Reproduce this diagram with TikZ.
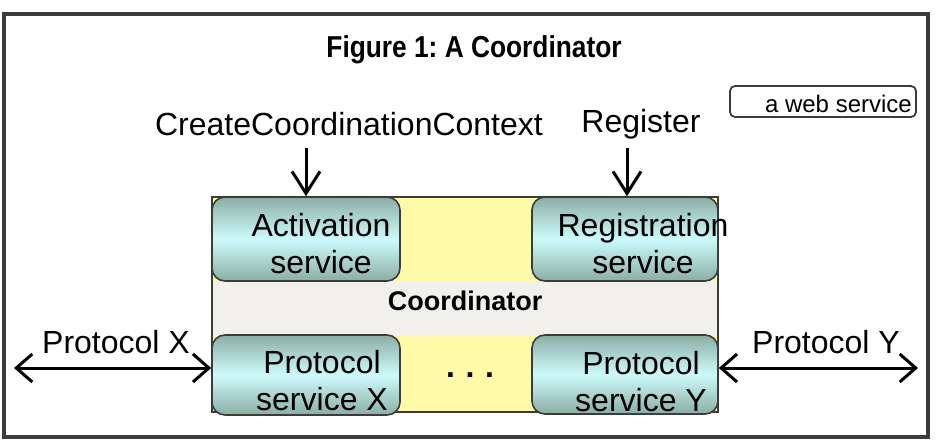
\documentclass[tikz,border=0pt]{standalone}
\usepackage{fontspec}
\setmainfont{Liberation Sans}
\usetikzlibrary{arrows.meta}
\definecolor{frameC}{HTML}{3C3C3C}
\definecolor{bandC}{HTML}{F1F0EC}
\definecolor{yelC}{HTML}{FFFAA8}
\definecolor{tealE}{HTML}{8AAEA4}
\definecolor{tealM}{HTML}{CDFBFB}
\tikzset{
  svc/.style={draw=frameC, line width=1.6pt, rounded corners=13pt,
    top color=tealE, bottom color=tealE, middle color=tealM},
  txt/.style={font=\fontsize{32}{37}\selectfont, align=center, inner sep=0pt},
  arr/.style={line width=3pt, -{Straight Barb[length=22pt,width=28pt,line width=3pt]}},
  darr/.style={line width=3pt, {Straight Barb[length=16pt,width=28pt,line width=3pt]}-{Straight Barb[length=16pt,width=28pt,line width=3pt]}},
}
\frenchspacing
\begin{document}
\begin{tikzpicture}[x=1pt,y=-1pt]
\useasboundingbox (0,0) rectangle (942,444);
\fill[white] (0,0) rectangle (942,444);
% outer frame
\node[draw=frameC, line width=3.5pt, minimum width=924pt, minimum height=423pt, inner sep=0pt] (frame) at (466,225.5) {};
% title
\node[font=\bfseries\fontsize{26.3}{30}\selectfont, inner sep=0pt] (title) at (474,50) {\scalebox{1}[1.15]{Figure 1: A Coordinator}};
% legend
\node[draw=frameC, line width=1.8pt, rounded corners=5pt, minimum width=186pt, minimum height=31pt, inner sep=0pt] (legend) at (823,101.5) {};
\node[font=\fontsize{24}{26}\selectfont, inner sep=0pt, anchor=east] (legtxt) at (912,104) {a web service};
% coordinator
\node[fill=yelC, minimum width=506pt, minimum height=215pt, inner sep=0pt] (coord) at (465,304.5) {};
\fill[bandC] (212,282) rectangle (718,335);
\node[font=\bfseries\fontsize{27}{30}\selectfont, inner sep=0pt] (coordtxt) at (465,301) {Coordinator};
\node[draw=frameC, line width=1.8pt, minimum width=506pt, minimum height=215pt, inner sep=0pt] (coordbox) at (465,304.5) {};
% services
\node[svc, minimum width=188pt, minimum height=84pt, inner sep=0pt] (act) at (306,239) {};
\node[svc, minimum width=186pt, minimum height=84pt, inner sep=0pt] (reg) at (625,239) {};
\node[svc, minimum width=188pt, minimum height=80pt, inner sep=0pt] (px) at (306,375) {};
\node[svc, minimum width=186pt, minimum height=79pt, inner sep=0pt] (py) at (625,374.5) {};
\node[txt] (acttxt) at (321,244) {Activation\\service};
\node[txt] (regtxt) at (643,244) {Registration\\service};
\node[txt] (pxtxt) at (322,381) {Protocol\\service X};
\node[txt] (pytxt) at (641,382) {Protocol\\service Y};
\node[font=\bfseries\fontsize{32}{34}\selectfont, inner sep=0pt] (dots) at (470,375) {.\,\,.\,\,.};
% top labels and arrows
\node[txt] (cccx) at (349,124) {CreateCoordinationContext};
\node[txt] (regx) at (641,124) {Register};
\coordinate (a1) at (306,148);
\coordinate (a2) at (627,148);
\draw[arr] (a1) -- (act.north);
\draw[arr] (a2) -- (a2 |- reg.north);
% side arrows
\node[txt] (plx) at (116,342) {Protocol X};
\node[txt] (ply) at (826,342) {Protocol Y};
\coordinate (l1) at (14,368);
\coordinate (r1) at (918,368);
\draw[darr] (l1) -- (l1 -| px.west);
\draw[darr] (r1 -| py.east) -- (r1);
\end{tikzpicture}
\end{document}
